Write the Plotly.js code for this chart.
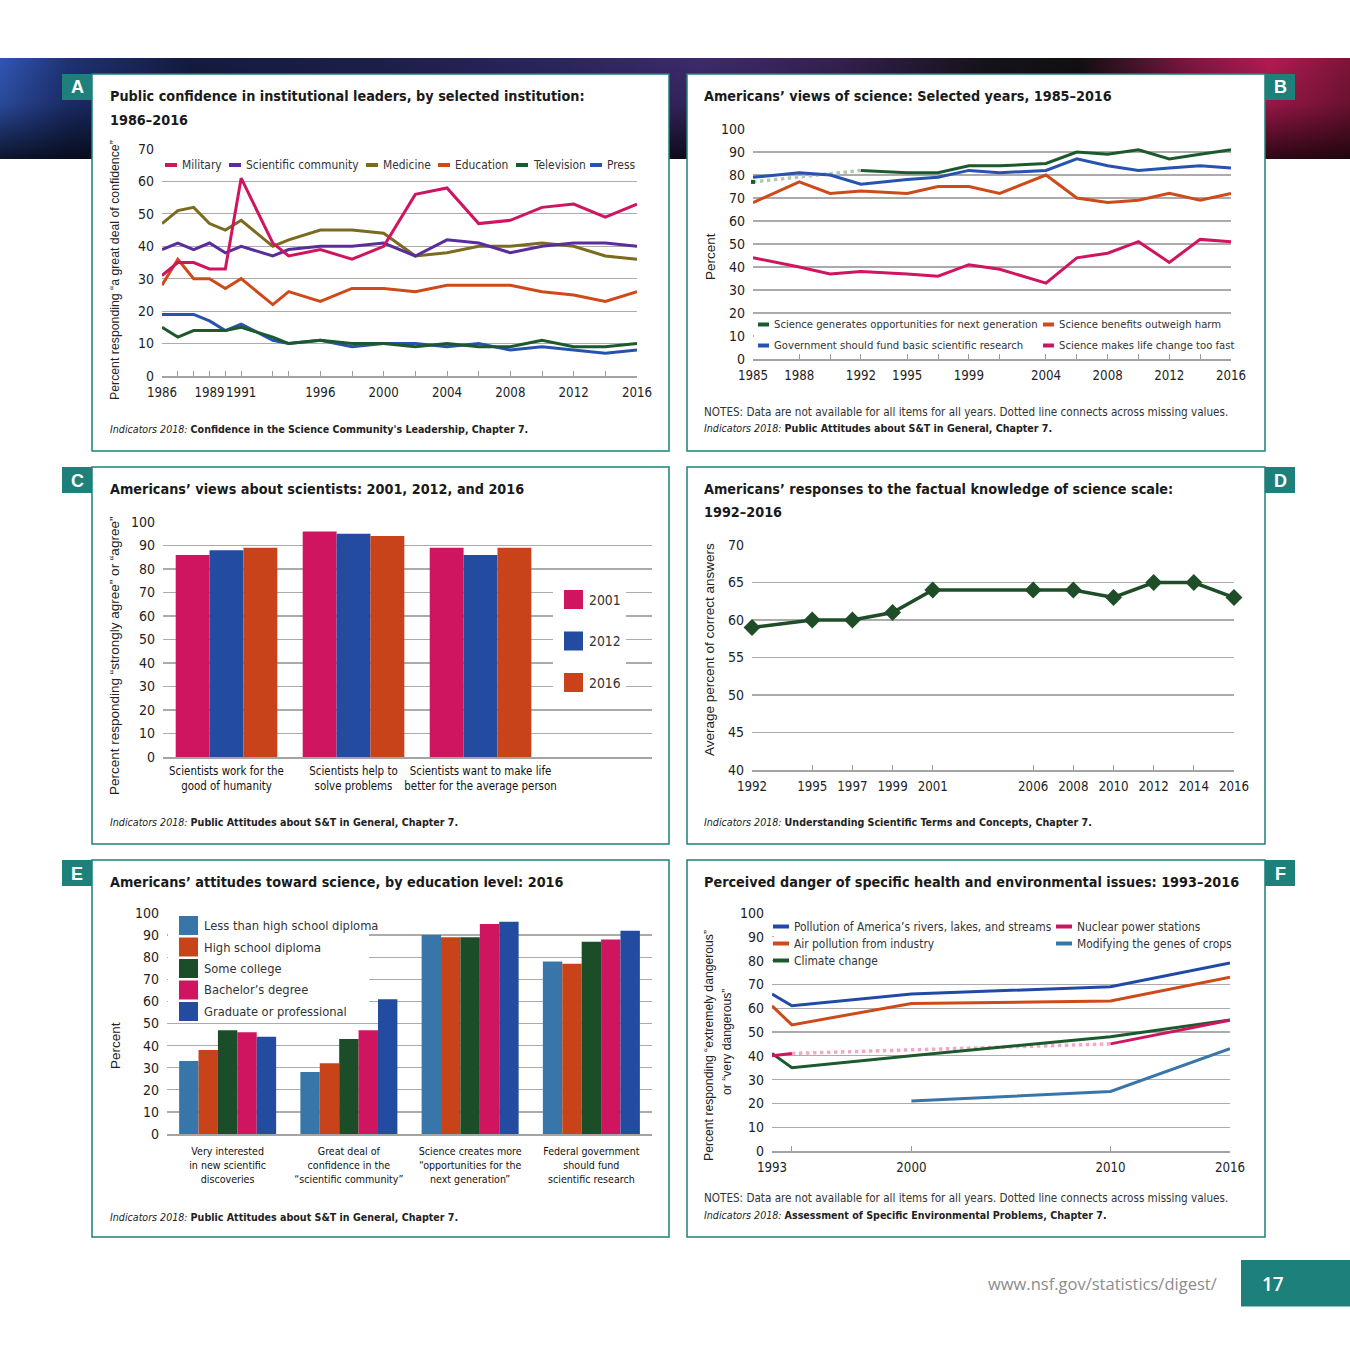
<!DOCTYPE html>
<html>
<head>
<meta charset="utf-8">
<script src="https://cdn.plot.ly/plotly-3.0.1.min.js"></script>
<style>
html,body{margin:0;padding:0;background:#fff;}
#page{position:relative;width:1350px;height:1350px;overflow:hidden;background:#fff;}
#banner{position:absolute;left:0;top:58px;width:1350px;height:101px;
 background:
  linear-gradient(180deg, rgba(0,0,0,0) 0%, rgba(0,0,0,0.15) 45%, rgba(0,0,0,0.75) 100%),
  linear-gradient(90deg, #3156b4 0%, #1f3276 5%, #141b40 14%, #1d1f4a 28%, #2c2660 42%, #3d2a6c 52%, #35204f 62%, #16121a 73%, #120f12 80%, #7a1640 88%, #b11b52 94%, #7c1438 100%);}
#chart{position:absolute;left:0;top:0;width:1350px;height:1350px;}
</style>
</head>
<body>
<div id="page"><div id="banner"></div><div id="chart"></div></div>
<script>
// ---------------- DATA ----------------
// A: Public confidence in institutional leaders
const yearsA = [1986,1987,1988,1989,1990,1991,1993,1994,1996,1998,2000,2002,2004,2006,2008,2010,2012,2014,2016];
const yearLabelsA = [1986,1989,1991,1996,2000,2004,2008,2012,2016];
const military     = [31,35,35,33,33,61,41,37,39,36,40,56,58,47,48,52,53,49,53];
const sciCommunity = [39,41,39,41,38,40,37,39,40,40,41,37,42,41,38,40,41,41,40];
const medicine     = [47,51,52,47,45,48,40,42,45,45,44,37,38,40,40,41,40,37,36];
const education    = [28,36,30,30,27,30,22,26,23,27,27,26,28,28,28,26,25,23,26];
const television   = [15,12,14,14,14,15,12,10,11,10,10,9,10,9,9,11,9,9,10];
const press        = [19,19,19,17,14,16,11,10,11,9,10,10,9,10,8,9,8,7,8];
const seriesNamesA = ['Military','Scientific community','Medicine','Education','Television','Press'];

// B: Americans' views of science
const yearsB = [1985,1988,1990,1992,1995,1997,1999,2001,2004,2006,2008,2010,2012,2014,2016];
const yearLabelsB = [1985,1988,1992,1995,1999,2004,2008,2012,2016];
const sciOpportunities = [77,null,null,82,81,81,84,84,85,90,89,91,87,89,91];
const sciBenefits      = [68,77,72,73,72,75,75,72,80,70,68,69,72,69,72];
const govFund          = [79,81,80,76,78,79,82,81,82,87,84,82,83,84,83];
const lifeTooFast      = [44,40,37,38,37,36,41,39,33,44,46,51,42,52,51];
const seriesNamesB = ['Science generates opportunities for next generation','Science benefits outweigh harm',
                      'Government should fund basic scientific research','Science makes life change too fast'];

// C: Americans' views about scientists
const statementsC = ['Scientists work for the<br>good of humanity','Scientists help to<br>solve problems','Scientists want to make life<br>better for the average person'];
const surveyYearsC = ['2001','2012','2016'];
const agree2001 = [86,96,89];
const agree2012 = [88,95,86];
const agree2016 = [89,94,89];

// D: Factual knowledge of science scale
const yearsD = [1992,1995,1997,1999,2001,2006,2008,2010,2012,2014,2016];
const knowledgeScore = [59,60,60,61,64,64,64,63,65,65,63];

// E: Attitudes by education level, 2016
const attitudesE = ['Very interested<br>in new scientific<br>discoveries','Great deal of<br>confidence in the<br>“scientific community”','Science creates more<br>“opportunities for the<br>next generation”','Federal government<br>should fund<br>scientific research'];
const eduLevels = ['Less than high school diploma','High school diploma','Some college','Bachelor’s degree','Graduate or professional'];
const lessThanHS  = [33,28,90,78];
const highSchool  = [38,32,89,77];
const someCollege = [47,43,89,87];
const bachelors   = [46,47,95,88];
const graduate    = [44,61,96,92];

// F: Perceived danger
const yearsF = [1993,1994,2000,2010,2016];
const yearLabelsF = [1993,2000,2010,2016];
const riversPollution = [66,61,66,69,79];
const airPollution    = [61,53,62,63,73];
const climateChange   = [41,35,40,48,55];
const nuclearPower    = [40,41,null,45,55];
const genesCrops      = [null,null,21,25,43];
const seriesNamesF = ['Pollution of America’s rivers, lakes, and streams','Air pollution from industry','Climate change','Nuclear power stations','Modifying the genes of crops'];

// ---------------- STYLE ----------------
const W = 1350, H = 1350;
const X = p => p / W;
const Y = p => 1 - p / H;
const NARROW = '"DejaVu Sans Condensed", "Liberation Sans Narrow", sans-serif';
const SANS = '"Liberation Sans", Arial, sans-serif';
const TEAL = '#1e807b';
const GRID = '#ababab';
const AXIS = '#a3a3a3';
const cMagenta = '#cf1560', cPurple = '#5a2d9c', cOlive = '#7b6a1f', cOrange = '#cf4a1a',
      cDkGreen = '#1c5a2e', cBlue = '#2752ae', cSteel = '#3876aa', cNavy = '#234b9f';
const yTickFont = {family: NARROW, size: 14, color: '#1e1e1e'};
const xTickFont = {family: NARROW, size: 13.2, color: '#1e1e1e'};

function yAx(top, bottom, range, dtick, anchor) {
  return {domain:[Y(bottom), Y(top)], range: range, tick0: range[0], dtick: dtick, showgrid:true,
    gridcolor:GRID, gridwidth:1.2, zeroline:false, showline:false, ticks:'', ticklabelstandoff:7,
    tickfont:yTickFont, anchor:anchor, fixedrange:true, automargin:false};
}
function xAxNum(left, right, range, vals, labels, anchor) {
  return {domain:[X(left), X(right)], range: range, tickmode:'array', tickvals: vals,
    ticktext: vals.map(v => labels.includes(v) ? String(v) : ''), tickangle:0,
    showgrid:false, zeroline:false, showline:true, linecolor:AXIS, linewidth:1.5,
    ticks:'inside', ticklen:5, tickwidth:1, tickcolor:'#9a9a9a', tickfont:xTickFont,
    ticklabelstandoff:4, anchor:anchor, fixedrange:true, automargin:false};
}
function xAxCat(left, right, range, fsize, standoff, anchor) {
  return {domain:[X(left), X(right)], type:'category', range: range, tickangle:0, showgrid:false, zeroline:false,
    showline:true, linecolor:AXIS, linewidth:1.5, ticks:'', tickfont:{family:NARROW, size:fsize, color:'#111'},
    ticklabelstandoff:standoff, anchor:anchor, fixedrange:true, automargin:false};
}

function bridgeGaps(xs, ys) {
  const segs = []; let last = -1;
  for (let i = 0; i < ys.length; i++) {
    if (ys[i] == null) continue;
    if (last >= 0 && i - last > 1) segs.push({x:[xs[last], xs[i]], y:[ys[last], ys[i]]});
    last = i;
  }
  return segs;
}
function isolatedPoints(xs, ys) {
  const px = [], pyv = [];
  ys.forEach((v, i) => {
    if (v == null) return;
    const prev = i > 0 ? ys[i-1] : null, next = i < ys.length-1 ? ys[i+1] : null;
    if (prev == null && next == null) { px.push(xs[i]); pyv.push(v); }
  });
  return {x:px, y:pyv};
}

const traces = [];
function line(xs, ys, color, name, xa, ya, w) {
  traces.push({type:'scatter', mode:'lines', x:xs, y:ys, name:name, connectgaps:false,
    line:{color:color, width:w || 3}, xaxis:xa, yaxis:ya, hoverinfo:'skip', showlegend:false});
}

// ---- A traces ----
line(yearsA, press, cBlue, 'Press', 'x', 'y');
line(yearsA, television, cDkGreen, 'Television', 'x', 'y');
line(yearsA, education, cOrange, 'Education', 'x', 'y');
line(yearsA, medicine, cOlive, 'Medicine', 'x', 'y');
line(yearsA, sciCommunity, cPurple, 'Scientific community', 'x', 'y');
line(yearsA, military, cMagenta, 'Military', 'x', 'y');

// ---- B traces ----
bridgeGaps(yearsB, sciOpportunities).forEach(s => traces.push({type:'scatter', mode:'lines', x:s.x, y:s.y,
  line:{color:'#b3c8b3', width:3.5, dash:'dot'}, xaxis:'x2', yaxis:'y2', hoverinfo:'skip', showlegend:false}));
line(yearsB, lifeTooFast, cMagenta, seriesNamesB[3], 'x2', 'y2');
line(yearsB, sciBenefits, cOrange, seriesNamesB[1], 'x2', 'y2');
line(yearsB, govFund, cBlue, seriesNamesB[2], 'x2', 'y2');
line(yearsB, sciOpportunities, cDkGreen, seriesNamesB[0], 'x2', 'y2');
(function(){ const iso = isolatedPoints(yearsB, sciOpportunities);
  traces.push({type:'scatter', mode:'markers', x:iso.x, y:iso.y, cliponaxis:false,
    marker:{symbol:'square', size:4, color:cDkGreen}, xaxis:'x2', yaxis:'y2', hoverinfo:'skip', showlegend:false}); })();

// ---- C traces ----
const colorsC = [cMagenta, cNavy, '#c8431a'];
[agree2001, agree2012, agree2016].forEach((d, i) => {
  traces.push({type:'bar', x:statementsC, y:d, name:surveyYearsC[i], marker:{color:colorsC[i], line:{width:0}},
    xaxis:'x3', yaxis:'y3', hoverinfo:'skip', showlegend:false});
});

// ---- D trace ----
traces.push({type:'scatter', mode:'lines+markers', x:yearsD, y:knowledgeScore, cliponaxis:false,
  line:{color:'#1e4d27', width:3.5}, marker:{symbol:'diamond', size:13, color:'#1e4d27'},
  xaxis:'x4', yaxis:'y4', hoverinfo:'skip', showlegend:false});

// ---- E traces ----
const eduColors = [cSteel, '#c8431a', '#1a4d28', cMagenta, cNavy];
[lessThanHS, highSchool, someCollege, bachelors, graduate].forEach((d, i) => {
  traces.push({type:'bar', x:attitudesE, y:d, name:eduLevels[i], marker:{color:eduColors[i], line:{width:0}},
    xaxis:'x5', yaxis:'y5', hoverinfo:'skip', showlegend:false});
});

// ---- F traces ----
bridgeGaps(yearsF, nuclearPower).forEach(s => traces.push({type:'scatter', mode:'lines', x:s.x, y:s.y,
  line:{color:'#f3a9c5', width:3.5, dash:'dot'}, xaxis:'x6', yaxis:'y6', hoverinfo:'skip', showlegend:false}));
line(yearsF, genesCrops, cSteel, seriesNamesF[4], 'x6', 'y6');
line(yearsF, climateChange, cDkGreen, seriesNamesF[2], 'x6', 'y6');
line(yearsF, nuclearPower, cMagenta, seriesNamesF[3], 'x6', 'y6');
line(yearsF, airPollution, cOrange, seriesNamesF[1], 'x6', 'y6');
line(yearsF, riversPollution, '#2349a6', seriesNamesF[0], 'x6', 'y6');

// ---------------- SHAPES & TEXT ----------------
const shapes = [], ann = [];
function rect(x0, y0, x1, y1, fill, lineColor, lw, layer) {
  shapes.push({type:'rect', xref:'paper', yref:'paper', x0:X(x0), x1:X(x1), y0:Y(y1), y1:Y(y0),
    fillcolor:fill, line:{color:lineColor || 'rgba(0,0,0,0)', width:lw || 0}, layer:layer || 'below'});
}
function text(x, y, t, font, opts) {
  ann.push(Object.assign({xref:'paper', yref:'paper', x:X(x), y:Y(y), text:t, showarrow:false,
    xanchor:'left', yanchor:'middle', font:font}, opts || {}));
}
function lineKey(x0, x1, y, color, label, size) {
  shapes.push({type:'line', xref:'paper', yref:'paper', x0:X(x0), x1:X(x1), y0:Y(y), y1:Y(y),
    line:{color:color, width:4}, layer:'above'});
  text(x1 + 3, y, label, {family:NARROW, size:size, color:'#333'});
}
function boxKey(x0, y, color, label, size, sq) {
  rect(x0, y - sq/2, x0 + sq, y + sq/2, color, null, 0, 'above');
  text(x0 + sq + 4, y, label, {family:NARROW, size:size, color:'#333'});
}

// panel frames and letter tabs
const panels = [
  {l:92, t:74, r:669, b:451, tab:'A', tx:62},
  {l:687, t:74, r:1265, b:451, tab:'B', tx:1265},
  {l:92, t:467, r:669, b:844, tab:'C', tx:62},
  {l:687, t:467, r:1265, b:844, tab:'D', tx:1265},
  {l:92, t:860, r:669, b:1237, tab:'E', tx:62},
  {l:687, t:860, r:1265, b:1237, tab:'F', tx:1265}
];
panels.forEach(p => {
  rect(p.l, p.t, p.r, p.b, '#ffffff', TEAL, 1.5, 'below');
  rect(p.tx, p.t, p.tx + 30, p.t + 26, TEAL, null, 0, 'below');
  text(p.tx + 15, p.t + 13.5, '<b>' + p.tab + '</b>', {family:SANS, size:18, color:'#fff'}, {xanchor:'center'});
});

const TITLE = {family:NARROW, size:14.3, color:'#1a1a1a'};
const SRC = {family:NARROW, size:10.6, color:'#222'};
const NOTEF = {family:NARROW, size:11.6, color:'#333'};
const NOTE = 'NOTES: Data are not available for all items for all years. Dotted line connects across missing values.';
const srcAttitudes = '<i>Indicators 2018:</i> <b>Public Attitudes about S&amp;T in General, Chapter 7.</b>';

// A
text(108, 96, '<b>Public confidence in institutional leaders, by selected institution:</b>', TITLE);
text(108, 119.5, '<b>1986–2016</b>', TITLE);
text(108, 429, '<i>Indicators 2018:</i> <b>Confidence in the Science Community\'s Leadership, Chapter 7.</b>', SRC);
text(115, 270, 'Percent responding “a great deal of confidence”', {family:SANS, size:12.3, color:'#222'}, {xanchor:'center', textangle:-90});
const keyA = [[165,cMagenta],[229,cPurple],[366,cOlive],[438,cOrange],[516,cDkGreen],[590,cBlue]];
keyA.forEach((k, i) => lineKey(k[0], k[0] + 12, 165, k[1], seriesNamesA[i], 11.9));

// B
text(702, 96, '<b>Americans’ views of science: Selected years, 1985–2016</b>', TITLE);
text(702, 411.5, NOTE, NOTEF);
text(702, 428.5, srcAttitudes, SRC);
text(710, 257, 'Percent', {family:SANS, size:13.5, color:'#222'}, {xanchor:'center', textangle:-90});
rect(754, 319, 1231, 350, '#ffffff', null, 0, 'above');
lineKey(758, 769, 324.5, cDkGreen, seriesNamesB[0], 11.2);
lineKey(1043, 1054, 324.5, cOrange, seriesNamesB[1], 11.2);
lineKey(758, 769, 345.5, cBlue, seriesNamesB[2], 11.2);
lineKey(1043, 1054, 345.5, cMagenta, seriesNamesB[3], 11.2);

// C
text(108, 489, '<b>Americans’ views about scientists: 2001, 2012, and 2016</b>', TITLE);
text(108, 822, srcAttitudes, SRC);
text(115, 656, 'Percent responding “strongly agree” or “agree”', {family:SANS, size:13.5, color:'#222'}, {xanchor:'center', textangle:-90});
rect(553, 586, 626, 700, '#ffffff', null, 0, 'above');
[599.5, 641, 682.5].forEach((yy, i) => boxKey(564, yy, colorsC[i], surveyYearsC[i], 13.8, 19));

// D
text(702, 489, '<b>Americans’ responses to the factual knowledge of science scale:</b>', TITLE);
text(702, 512, '<b>1992–2016</b>', TITLE);
text(702, 822, '<i>Indicators 2018:</i> <b>Understanding Scientific Terms and Concepts, Chapter 7.</b>', SRC);
text(710, 650, 'Average percent of correct answers', {family:SANS, size:13.5, color:'#222'}, {xanchor:'center', textangle:-90});

// E
text(108, 882, '<b>Americans’ attitudes toward science, by education level: 2016</b>', TITLE);
text(108, 1217, srcAttitudes, SRC);
text(115, 1046, 'Percent', {family:SANS, size:13.5, color:'#222'}, {xanchor:'center', textangle:-90});
rect(168, 915, 369, 1021.5, '#ffffff', null, 0, 'above');
eduColors.forEach((c, i) => boxKey(179, 925.5 + i * 21.5, c, eduLevels[i], 12.8, 19));

// F
text(702, 882, '<b>Perceived danger of specific health and environmental issues: 1993–2016</b>', TITLE);
text(702, 1197.5, NOTE, NOTEF);
text(702, 1214.5, '<i>Indicators 2018:</i> <b>Assessment of Specific Environmental Problems, Chapter 7.</b>', SRC);
text(709, 1046, 'Percent responding “extremely dangerous”', {family:SANS, size:12.2, color:'#222'}, {xanchor:'center', textangle:-90});
text(727, 1042, 'or “very dangerous”', {family:SANS, size:12.2, color:'#222'}, {xanchor:'center', textangle:-90});
shapes.push({type:'rect', xref:'x6', yref:'y6', x0:1993.1, x1:2016, y0:76, y1:99.2, fillcolor:'#ffffff', line:{width:0}, layer:'between'});
lineKey(773, 789, 926.5, '#2349a6', seriesNamesF[0], 11.9);
lineKey(773, 789, 943.5, cOrange, seriesNamesF[1], 11.9);
lineKey(773, 789, 960.5, cDkGreen, seriesNamesF[2], 11.9);
lineKey(1056, 1072, 926.5, cMagenta, seriesNamesF[3], 11.9);
lineKey(1056, 1072, 943.5, cSteel, seriesNamesF[4], 11.9);

// footer
rect(1241, 1260, 1350, 1306.5, TEAL, null, 0, 'below');
text(1273, 1283.5, '17', {family:'"Open Sans", sans-serif', size:19, color:'#fff', weight:600}, {xanchor:'center'});
text(1219, 1283, 'www.nsf.gov/statistics/digest/', {family:'"Open Sans", sans-serif', size:16.5, color:'#8c8c8c'}, {xanchor:'right'});

const layout = {
  width: W, height: H, autosize:false,
  margin:{l:0, r:0, t:0, b:0, pad:0},
  paper_bgcolor:'rgba(0,0,0,0)', plot_bgcolor:'rgba(0,0,0,0)',
  showlegend:false, barmode:'group', bargap:0.2, bargroupgap:0,
  font:{family:NARROW, color:'#222'},
  xaxis:  xAxNum(162, 637, [1986, 2016], yearsA, yearLabelsA, 'y'),
  yaxis:  yAx(149, 376, [0, 70], 10, 'x'),
  xaxis2: xAxNum(753, 1231, [1985, 2016], yearsB, yearLabelsB, 'y2'),
  yaxis2: yAx(129, 359, [0, 100], 10, 'x2'),
  xaxis3: xAxCat(163, 652, [-0.5, 3.35], 11.4, 3, 'y3'),
  yaxis3: yAx(522, 757, [0, 100], 10, 'x3'),
  xaxis4: xAxNum(752, 1234, [1992, 2016], yearsD, yearsD, 'y4'),
  yaxis4: yAx(545, 770, [40, 70], 5, 'x4'),
  xaxis5: xAxCat(167, 652, [-0.5, 3.5], 10.6, 7, 'y5'),
  yaxis5: yAx(913, 1134, [0, 100], 10, 'x5'),
  xaxis6: xAxNum(772, 1230, [1993, 2016], yearsF, yearLabelsF, 'y6'),
  yaxis6: yAx(913, 1151, [0, 100], 10, 'x6'),
  shapes: shapes,
  annotations: ann
};
Plotly.newPlot('chart', traces, layout, {displayModeBar:false, staticPlot:true});
</script>
</body>
</html>
